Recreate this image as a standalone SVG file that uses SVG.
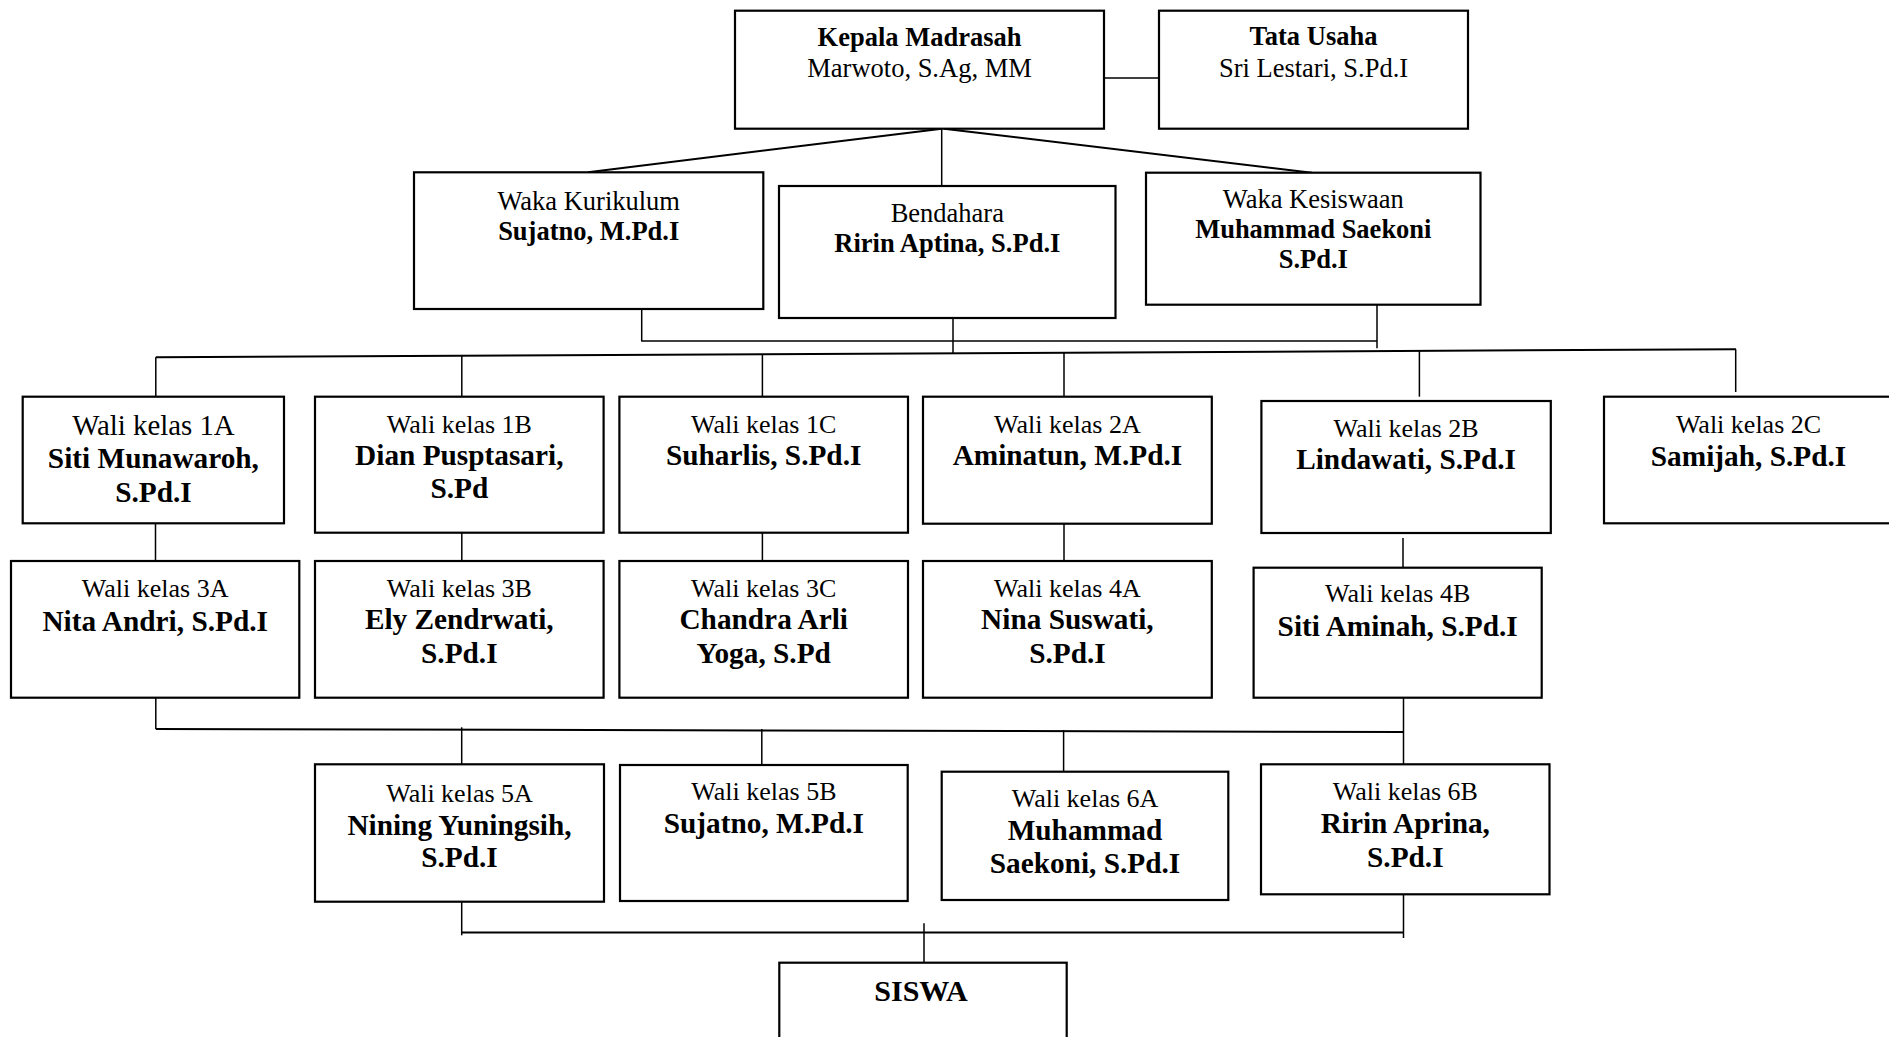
<svg xmlns="http://www.w3.org/2000/svg" width="1889" height="1037" viewBox="0 0 1889 1037">
<style>
rect{fill:#fff;stroke:#000;stroke-width:2.2}
.c line{stroke:#000;stroke-width:1.5}
.c .d{stroke-width:2}
text{font-family:"Liberation Serif","Times New Roman",serif;fill:#000;text-anchor:middle}
.t{font-size:26.5px}
.tb{font-size:26.5px;font-weight:bold}
.r{font-size:26px}
.b{font-size:29.3px;font-weight:bold}
</style>
<rect x="0" y="0" width="1889" height="1037" style="stroke:none"/>
<g class="c" id="connectors">
<line x1="1104" y1="78" x2="1159" y2="78"/>
<line class="d" x1="941.7" y1="128.7" x2="588" y2="172.3"/>
<line x1="941.7" y1="128.7" x2="941.7" y2="186"/>
<line class="d" x1="944" y1="128.7" x2="1312" y2="172.7"/>
<line x1="641.7" y1="305" x2="641.7" y2="341.5"/>
<line x1="641.7" y1="341" x2="1377" y2="341"/>
<line x1="1377" y1="304.7" x2="1377" y2="348.3"/>
<line x1="953" y1="318" x2="953" y2="353.3"/>
<line class="d" x1="155.8" y1="357.3" x2="1736" y2="349.3"/>
<line x1="155.8" y1="357.3" x2="155.8" y2="400"/>
<line x1="461.8" y1="355.7" x2="461.8" y2="400"/>
<line x1="762.4" y1="354.3" x2="762.4" y2="400"/>
<line x1="1064" y1="352.7" x2="1064" y2="400"/>
<line x1="1419.4" y1="350.9" x2="1419.4" y2="396.7"/>
<line x1="1735.7" y1="349.3" x2="1735.7" y2="392"/>
<line x1="155.5" y1="523.3" x2="155.5" y2="566.7"/>
<line x1="461.8" y1="523.3" x2="461.8" y2="566.7"/>
<line x1="762.4" y1="523.3" x2="762.4" y2="566.7"/>
<line x1="1064" y1="523.7" x2="1064" y2="566.7"/>
<line x1="1403" y1="538" x2="1403" y2="567.7"/>
<line x1="155.8" y1="688.3" x2="155.8" y2="729"/>
<line x1="1403.5" y1="688.3" x2="1403.5" y2="764.3"/>
<line class="d" x1="155.8" y1="729" x2="1403.5" y2="732"/>
<line x1="461.7" y1="727.3" x2="461.7" y2="771.7"/>
<line x1="761.8" y1="729" x2="761.8" y2="772.7"/>
<line x1="1063.6" y1="730" x2="1063.6" y2="771.7"/>
<line x1="461.7" y1="891.7" x2="461.7" y2="935.3"/>
<line class="d" x1="461.7" y1="932.6" x2="1403.5" y2="932.6"/>
<line x1="1403.5" y1="894.3" x2="1403.5" y2="938"/>
<line x1="924" y1="923.3" x2="924" y2="962.7"/>
</g>
<g id="kepala"><rect x="735" y="10.7" width="369" height="118"/>
<text class="tb" x="919.5" y="45.7">Kepala Madrasah</text><text class="t" x="919.5" y="77.3">Marwoto, S.Ag, MM</text></g>
<g id="tata-usaha"><rect x="1159" y="10.7" width="309" height="118"/>
<text class="tb" x="1313.5" y="45">Tata Usaha</text><text class="t" x="1313.5" y="76.7">Sri Lestari, S.Pd.I</text></g>
<g id="waka-kurikulum"><rect x="414" y="172.3" width="349.3" height="136.7"/>
<text class="t" x="588.7" y="210">Waka Kurikulum</text><text class="tb" x="588.7" y="240">Sujatno, M.Pd.I</text></g>
<g id="bendahara"><rect x="779" y="186" width="336.5" height="132"/>
<text class="t" x="947.3" y="221.7">Bendahara</text><text class="tb" x="947.3" y="252.3">Ririn Aptina, S.Pd.I</text></g>
<g id="waka-kesiswaan"><rect x="1146" y="172.7" width="334.5" height="132"/>
<text class="t" x="1313.3" y="208.3">Waka Kesiswaan</text><text class="tb" x="1313.3" y="238.3">Muhammad Saekoni</text><text class="tb" x="1313.3" y="268.3">S.Pd.I</text></g>
<g id="wali-1a"><rect x="22.7" y="396.7" width="261.3" height="126.6"/>
<text class="r" style="font-size:28.8px" x="153.4" y="435">Wali kelas 1A</text><text class="b" x="153.4" y="468.3">Siti Munawaroh,</text><text class="b" x="153.4" y="502">S.Pd.I</text></g>
<g id="wali-1b"><rect x="315" y="396.7" width="288.6" height="136"/>
<text class="r" x="459.3" y="432.7">Wali kelas 1B</text><text class="b" x="459.3" y="465">Dian Pusptasari,</text><text class="b" x="459.3" y="498.3">S.Pd</text></g>
<g id="wali-1c"><rect x="619.4" y="396.7" width="288.6" height="136"/>
<text class="r" x="763.7" y="432.7">Wali kelas 1C</text><text class="b" x="763.7" y="465">Suharlis, S.Pd.I</text></g>
<g id="wali-2a"><rect x="923" y="396.7" width="288.8" height="127"/>
<text class="r" x="1067.4" y="432.7">Wali kelas 2A</text><text class="b" x="1067.4" y="465">Aminatun, M.Pd.I</text></g>
<g id="wali-2b"><rect x="1261.4" y="401" width="289.4" height="132"/>
<text class="r" x="1406.1" y="436.7">Wali kelas 2B</text><text class="b" x="1406.1" y="469.3">Lindawati, S.Pd.I</text></g>
<g id="wali-2c"><rect x="1604" y="396.7" width="289" height="126.6"/>
<text class="r" x="1748.5" y="433.3">Wali kelas 2C</text><text class="b" x="1748.5" y="466">Samijah, S.Pd.I</text></g>
<g id="wali-3a"><rect x="11" y="561" width="288.3" height="136.7"/>
<text class="r" x="155.2" y="597.3">Wali kelas 3A</text><text class="b" x="155.2" y="630.7">Nita Andri, S.Pd.I</text></g>
<g id="wali-3b"><rect x="315" y="561" width="288.6" height="136.7"/>
<text class="r" x="459.3" y="596.7">Wali kelas 3B</text><text class="b" x="459.3" y="629.3">Ely Zendrwati,</text><text class="b" x="459.3" y="662.7">S.Pd.I</text></g>
<g id="wali-3c"><rect x="619.4" y="561" width="288.6" height="136.7"/>
<text class="r" x="763.7" y="596.7">Wali kelas 3C</text><text class="b" x="763.7" y="629.3">Chandra Arli</text><text class="b" x="763.7" y="662.7">Yoga, S.Pd</text></g>
<g id="wali-4a"><rect x="923" y="561" width="288.8" height="136.7"/>
<text class="r" x="1067.4" y="596.7">Wali kelas 4A</text><text class="b" x="1067.4" y="629.3">Nina Suswati,</text><text class="b" x="1067.4" y="662.7">S.Pd.I</text></g>
<g id="wali-4b"><rect x="1253.6" y="567.7" width="288.1" height="130"/>
<text class="r" x="1397.7" y="601.7">Wali kelas 4B</text><text class="b" x="1397.7" y="635.7">Siti Aminah, S.Pd.I</text></g>
<g id="wali-5a"><rect x="315" y="764.3" width="289" height="137.4"/>
<text class="r" x="459.5" y="801.7">Wali kelas 5A</text><text class="b" x="459.5" y="835">Nining Yuningsih,</text><text class="b" x="459.5" y="866.7">S.Pd.I</text></g>
<g id="wali-5b"><rect x="620" y="765" width="287.7" height="136"/>
<text class="r" x="763.9" y="800">Wali kelas 5B</text><text class="b" x="763.9" y="833.3">Sujatno, M.Pd.I</text></g>
<g id="wali-6a"><rect x="941.7" y="771.7" width="286.6" height="128.3"/>
<text class="r" x="1085" y="806.7">Wali kelas 6A</text><text class="b" x="1085" y="840">Muhammad</text><text class="b" x="1085" y="873.3">Saekoni, S.Pd.I</text></g>
<g id="wali-6b"><rect x="1261" y="764.3" width="288.5" height="130"/>
<text class="r" x="1405.3" y="800">Wali kelas 6B</text><text class="b" x="1405.3" y="833.3">Ririn Aprina,</text><text class="b" x="1405.3" y="866.7">S.Pd.I</text></g>
<g id="siswa"><rect x="779.3" y="962.7" width="287.4" height="80"/>
<text class="b" style="font-size:30px" x="921" y="1000.7">SISWA</text></g>
</svg>
